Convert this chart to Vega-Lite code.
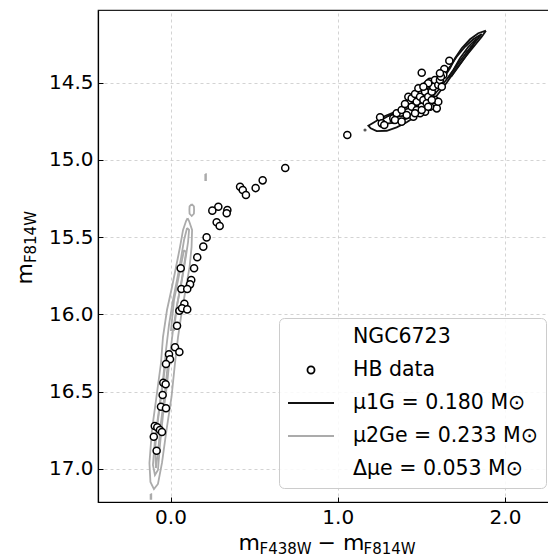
{
"$schema": "https://vega.github.io/schema/vega-lite/v6.json",
"width": 451, "height": 492,
"autosize": {"type": "none"},
"padding": {"left": 98, "top": 10, "right": 0, "bottom": 56},
"config": {
 "font": "DejaVu Sans",
 "view": {"stroke": "#222222", "strokeWidth": 1.2},
 "axis": {"labelFont": "DejaVu Sans", "labelFontSize": 20, "labelColor": "#000000", "titleFont": "DejaVu Sans", "titleFontWeight": "normal", "titleColor": "#000000", "tickColor": "#000000", "domainColor": "#000000", "domainWidth": 1.2, "gridColor": "#c8c8c8", "gridDash": [3, 3], "gridWidth": 0.8},
 "legend": {"orient": "none", "legendX": 181, "legendY": 308, "labelFont": "DejaVu Sans", "labelFontSize": 20.5, "labelColor": "#000000", "clipHeight": 22, "rowPadding": 11, "padding": 8, "cornerRadius": 5, "strokeColor": "#cccccc", "fillColor": "rgba(255,255,255,0.85)", "labelOffset": 18, "symbolStrokeWidth": 1.8, "labelLimit": 400}
},
"datasets": {
 "hb": [
  {"x":0.686,"y":15.052,"g":"HB data"},{"x":0.551,"y":15.132,"g":"HB data"},{"x":0.509,"y":15.182,"g":"HB data"},{"x":0.416,"y":15.173,"g":"HB data"},{"x":0.432,"y":15.194,"g":"HB data"},{"x":0.451,"y":15.227,"g":"HB data"},{"x":0.340,"y":15.324,"g":"HB data"},{"x":0.336,"y":15.345,"g":"HB data"},{"x":0.286,"y":15.303,"g":"HB data"},{"x":0.250,"y":15.328,"g":"HB data"},{"x":0.276,"y":15.403,"g":"HB data"},{"x":0.294,"y":15.427,"g":"HB data"},{"x":0.216,"y":15.501,"g":"HB data"},{"x":0.196,"y":15.561,"g":"HB data"},{"x":0.160,"y":15.630,"g":"HB data"},{"x":0.141,"y":15.701,"g":"HB data"},{"x":0.061,"y":15.701,"g":"HB data"},{"x":0.124,"y":15.777,"g":"HB data"},{"x":0.117,"y":15.805,"g":"HB data"},{"x":0.065,"y":15.835,"g":"HB data"},{"x":0.100,"y":15.835,"g":"HB data"},{"x":0.083,"y":15.930,"g":"HB data"},{"x":0.053,"y":15.976,"g":"HB data"},{"x":0.069,"y":15.960,"g":"HB data"},{"x":0.100,"y":15.967,"g":"HB data"},{"x":0.039,"y":16.073,"g":"HB data"},{"x":0.027,"y":16.212,"g":"HB data"},{"x":0.053,"y":16.243,"g":"HB data"},{"x":-0.009,"y":16.258,"g":"HB data"},{"x":-0.003,"y":16.290,"g":"HB data"},{"x":-0.027,"y":16.321,"g":"HB data"},{"x":-0.043,"y":16.442,"g":"HB data"},{"x":-0.029,"y":16.452,"g":"HB data"},{"x":-0.047,"y":16.521,"g":"HB data"},{"x":-0.057,"y":16.597,"g":"HB data"},{"x":-0.027,"y":16.607,"g":"HB data"},{"x":-0.094,"y":16.722,"g":"HB data"},{"x":-0.079,"y":16.730,"g":"HB data"},{"x":-0.063,"y":16.748,"g":"HB data"},{"x":-0.051,"y":16.761,"g":"HB data"},{"x":-0.100,"y":16.791,"g":"HB data"},{"x":-0.083,"y":16.882,"g":"HB data"},
  {"x":1.057,"y":14.838,"g":"HB data"},{"x":1.502,"y":14.435,"g":"HB data"},{"x":1.667,"y":14.358,"g":"HB data"},{"x":1.637,"y":14.411,"g":"HB data"},
  {"x":1.253,"y":14.724,"g":"HB data"},{"x":1.263,"y":14.763,"g":"HB data"},{"x":1.332,"y":14.730,"g":"HB data"},{"x":1.352,"y":14.698,"g":"HB data"},{"x":1.382,"y":14.677,"g":"HB data"},{"x":1.402,"y":14.638,"g":"HB data"},{"x":1.422,"y":14.591,"g":"HB data"},{"x":1.442,"y":14.601,"g":"HB data"},{"x":1.462,"y":14.573,"g":"HB data"},{"x":1.472,"y":14.623,"g":"HB data"},{"x":1.482,"y":14.536,"g":"HB data"},{"x":1.492,"y":14.591,"g":"HB data"},{"x":1.502,"y":14.655,"g":"HB data"},{"x":1.512,"y":14.612,"g":"HB data"},{"x":1.522,"y":14.558,"g":"HB data"},{"x":1.532,"y":14.515,"g":"HB data"},{"x":1.541,"y":14.591,"g":"HB data"},{"x":1.552,"y":14.494,"g":"HB data"},{"x":1.562,"y":14.558,"g":"HB data"},{"x":1.571,"y":14.526,"g":"HB data"},{"x":1.581,"y":14.612,"g":"HB data"},{"x":1.581,"y":14.483,"g":"HB data"},{"x":1.592,"y":14.666,"g":"HB data"},{"x":1.601,"y":14.515,"g":"HB data"},{"x":1.611,"y":14.483,"g":"HB data"},{"x":1.622,"y":14.526,"g":"HB data"},{"x":1.631,"y":14.450,"g":"HB data"},{"x":1.601,"y":14.623,"g":"HB data"},{"x":1.552,"y":14.655,"g":"HB data"},{"x":1.522,"y":14.688,"g":"HB data"},{"x":1.492,"y":14.698,"g":"HB data"},{"x":1.452,"y":14.720,"g":"HB data"},{"x":1.412,"y":14.709,"g":"HB data"},{"x":1.442,"y":14.655,"g":"HB data"},{"x":1.532,"y":14.633,"g":"HB data"},{"x":1.562,"y":14.612,"g":"HB data"},{"x":1.472,"y":14.677,"g":"HB data"},{"x":1.278,"y":14.774,"g":"HB data"},{"x":1.342,"y":14.741,"g":"HB data"},{"x":1.382,"y":14.752,"g":"HB data"},{"x":1.462,"y":14.698,"g":"HB data"},{"x":1.502,"y":14.677,"g":"HB data"},{"x":1.541,"y":14.655,"g":"HB data"},{"x":1.617,"y":14.461,"g":"HB data"},{"x":1.611,"y":14.439,"g":"HB data"},{"x":1.541,"y":14.504,"g":"HB data"},{"x":1.512,"y":14.526,"g":"HB data"}
 ],
 "c1g": [
  {"id":1,"o":0,"x":1.886,"y":14.163},{"id":1,"o":1,"x":1.840,"y":14.180},{"id":1,"o":2,"x":1.791,"y":14.219},{"id":1,"o":3,"x":1.741,"y":14.277},{"id":1,"o":4,"x":1.701,"y":14.342},{"id":1,"o":5,"x":1.671,"y":14.407},{"id":1,"o":6,"x":1.631,"y":14.472},{"id":1,"o":7,"x":1.581,"y":14.536},{"id":1,"o":8,"x":1.522,"y":14.601},{"id":1,"o":9,"x":1.462,"y":14.651},{"id":1,"o":10,"x":1.392,"y":14.677},{"id":1,"o":11,"x":1.332,"y":14.694},{"id":1,"o":12,"x":1.272,"y":14.720},{"id":1,"o":13,"x":1.213,"y":14.759},{"id":1,"o":14,"x":1.183,"y":14.778},{"id":1,"o":15,"x":1.197,"y":14.795},{"id":1,"o":16,"x":1.233,"y":14.813},{"id":1,"o":17,"x":1.293,"y":14.811},{"id":1,"o":18,"x":1.352,"y":14.789},{"id":1,"o":19,"x":1.412,"y":14.756},{"id":1,"o":20,"x":1.472,"y":14.714},{"id":1,"o":21,"x":1.532,"y":14.655},{"id":1,"o":22,"x":1.592,"y":14.584},{"id":1,"o":23,"x":1.651,"y":14.500},{"id":1,"o":24,"x":1.711,"y":14.407},{"id":1,"o":25,"x":1.771,"y":14.321},{"id":1,"o":26,"x":1.821,"y":14.256},{"id":1,"o":27,"x":1.861,"y":14.202},{"id":1,"o":28,"x":1.886,"y":14.163},
  {"id":2,"o":0,"x":1.861,"y":14.185},{"id":2,"o":1,"x":1.810,"y":14.219},{"id":2,"o":2,"x":1.761,"y":14.267},{"id":2,"o":3,"x":1.711,"y":14.332},{"id":2,"o":4,"x":1.671,"y":14.396},{"id":2,"o":5,"x":1.622,"y":14.461},{"id":2,"o":6,"x":1.571,"y":14.521},{"id":2,"o":7,"x":1.512,"y":14.580},{"id":2,"o":8,"x":1.442,"y":14.633},{"id":2,"o":9,"x":1.372,"y":14.677},{"id":2,"o":10,"x":1.302,"y":14.716},{"id":2,"o":11,"x":1.253,"y":14.746},{"id":2,"o":12,"x":1.272,"y":14.767},{"id":2,"o":13,"x":1.342,"y":14.759},{"id":2,"o":14,"x":1.412,"y":14.724},{"id":2,"o":15,"x":1.482,"y":14.677},{"id":2,"o":16,"x":1.541,"y":14.623},{"id":2,"o":17,"x":1.601,"y":14.547},{"id":2,"o":18,"x":1.661,"y":14.465},{"id":2,"o":19,"x":1.721,"y":14.374},{"id":2,"o":20,"x":1.781,"y":14.288},{"id":2,"o":21,"x":1.831,"y":14.224},{"id":2,"o":22,"x":1.861,"y":14.185},
  {"id":3,"o":0,"x":1.831,"y":14.213},{"id":3,"o":1,"x":1.781,"y":14.267},{"id":3,"o":2,"x":1.731,"y":14.342},{"id":3,"o":3,"x":1.691,"y":14.418},{"id":3,"o":4,"x":1.661,"y":14.465},{"id":3,"o":5,"x":1.681,"y":14.457},{"id":3,"o":6,"x":1.721,"y":14.396},{"id":3,"o":7,"x":1.771,"y":14.321},{"id":3,"o":8,"x":1.810,"y":14.256},{"id":3,"o":9,"x":1.831,"y":14.213},
  {"id":4,"o":0,"x":1.312,"y":14.746},{"id":4,"o":1,"x":1.362,"y":14.720},{"id":4,"o":2,"x":1.422,"y":14.709},{"id":4,"o":3,"x":1.442,"y":14.720},{"id":4,"o":4,"x":1.392,"y":14.741},{"id":4,"o":5,"x":1.332,"y":14.763},{"id":4,"o":6,"x":1.312,"y":14.746}
 ],
 "c2ge": [
  {"id":1,"o":0,"x":0.102,"y":15.376},{"id":1,"o":1,"x":0.093,"y":15.395},{"id":1,"o":2,"x":0.075,"y":15.453},{"id":1,"o":3,"x":0.057,"y":15.563},{"id":1,"o":4,"x":0.033,"y":15.693},{"id":1,"o":5,"x":0.009,"y":15.822},{"id":1,"o":6,"x":-0.021,"y":15.971},{"id":1,"o":7,"x":-0.045,"y":16.146},{"id":1,"o":8,"x":-0.057,"y":16.314},{"id":1,"o":9,"x":-0.084,"y":16.534},{"id":1,"o":10,"x":-0.111,"y":16.748},{"id":1,"o":11,"x":-0.126,"y":16.961},{"id":1,"o":12,"x":-0.120,"y":17.084},{"id":1,"o":13,"x":-0.099,"y":17.130},{"id":1,"o":14,"x":-0.075,"y":17.097},{"id":1,"o":15,"x":-0.051,"y":16.961},{"id":1,"o":16,"x":-0.024,"y":16.748},{"id":1,"o":17,"x":0.006,"y":16.534},{"id":1,"o":18,"x":0.027,"y":16.314},{"id":1,"o":19,"x":0.045,"y":16.146},{"id":1,"o":20,"x":0.069,"y":15.971},{"id":1,"o":21,"x":0.093,"y":15.822},{"id":1,"o":22,"x":0.114,"y":15.693},{"id":1,"o":23,"x":0.126,"y":15.563},{"id":1,"o":24,"x":0.129,"y":15.453},{"id":1,"o":25,"x":0.111,"y":15.395},{"id":1,"o":26,"x":0.102,"y":15.376},
  {"id":2,"o":0,"x":0.099,"y":15.440},{"id":2,"o":1,"x":0.081,"y":15.518},{"id":2,"o":2,"x":0.063,"y":15.635},{"id":2,"o":3,"x":0.039,"y":15.777},{"id":2,"o":4,"x":0.015,"y":15.906},{"id":2,"o":5,"x":-0.009,"y":16.068},{"id":2,"o":6,"x":-0.027,"y":16.230},{"id":2,"o":7,"x":-0.045,"y":16.424},{"id":2,"o":8,"x":-0.069,"y":16.618},{"id":2,"o":9,"x":-0.093,"y":16.812},{"id":2,"o":10,"x":-0.105,"y":16.974},{"id":2,"o":11,"x":-0.093,"y":17.039},{"id":2,"o":12,"x":-0.075,"y":17.007},{"id":2,"o":13,"x":-0.063,"y":16.845},{"id":2,"o":14,"x":-0.045,"y":16.651},{"id":2,"o":15,"x":-0.021,"y":16.456},{"id":2,"o":16,"x":-0.003,"y":16.262},{"id":2,"o":17,"x":0.015,"y":16.101},{"id":2,"o":18,"x":0.039,"y":15.939},{"id":2,"o":19,"x":0.063,"y":15.809},{"id":2,"o":20,"x":0.087,"y":15.660},{"id":2,"o":21,"x":0.105,"y":15.531},{"id":2,"o":22,"x":0.111,"y":15.453},{"id":2,"o":23,"x":0.099,"y":15.440},
  {"id":3,"o":0,"x":0.081,"y":15.583},{"id":3,"o":1,"x":0.051,"y":15.745},{"id":3,"o":2,"x":0.021,"y":15.906},{"id":3,"o":3,"x":0.003,"y":16.101},{"id":3,"o":4,"x":0.021,"y":16.101},{"id":3,"o":5,"x":0.039,"y":15.939},{"id":3,"o":6,"x":0.069,"y":15.764},{"id":3,"o":7,"x":0.093,"y":15.596},{"id":3,"o":8,"x":0.081,"y":15.583},
  {"id":4,"o":0,"x":-0.027,"y":16.295},{"id":4,"o":1,"x":-0.051,"y":16.489},{"id":4,"o":2,"x":-0.075,"y":16.683},{"id":4,"o":3,"x":-0.093,"y":16.877},{"id":4,"o":4,"x":-0.087,"y":16.994},{"id":4,"o":5,"x":-0.075,"y":16.890},{"id":4,"o":6,"x":-0.057,"y":16.696},{"id":4,"o":7,"x":-0.033,"y":16.502},{"id":4,"o":8,"x":-0.015,"y":16.308},{"id":4,"o":9,"x":-0.027,"y":16.295},
  {"id":5,"o":0,"x":0.127,"y":15.285},{"id":5,"o":1,"x":0.140,"y":15.300},{"id":5,"o":2,"x":0.141,"y":15.324},{"id":5,"o":3,"x":0.140,"y":15.348},{"id":5,"o":4,"x":0.127,"y":15.363},{"id":5,"o":5,"x":0.114,"y":15.348},{"id":5,"o":6,"x":0.113,"y":15.324},{"id":5,"o":7,"x":0.114,"y":15.300},{"id":5,"o":8,"x":0.127,"y":15.285},
  {"id":6,"o":0,"x":0.208,"y":15.091},{"id":6,"o":1,"x":0.212,"y":15.091},{"id":6,"o":2,"x":0.212,"y":15.130},{"id":6,"o":3,"x":0.208,"y":15.130},{"id":6,"o":4,"x":0.208,"y":15.091},
  {"id":7,"o":0,"x":-0.119,"y":17.162},{"id":7,"o":1,"x":-0.115,"y":17.162},{"id":7,"o":2,"x":-0.115,"y":17.194},{"id":7,"o":3,"x":-0.119,"y":17.194},{"id":7,"o":4,"x":-0.119,"y":17.162}
 ],
 "dots": [
  {"x":1.163,"y":14.806},{"x":1.771,"y":14.299},{"x":1.797,"y":14.267}
 ]
},
"resolve": {"axis": {"x": "independent", "y": "independent"}},
"layer": [
 {
  "data": {"name": "c2ge"},
  "mark": {"type": "line", "stroke": "#ababab", "strokeWidth": 1.8, "clip": true},
  "encoding": {
   "x": {"field": "x", "type": "quantitative", "scale": {"domain": [-0.4335, 2.263], "nice": false, "zero": false},
    "axis": {"orient": "bottom", "values": [0, 1, 2], "format": ".1f", "grid": true, "labelPadding": 10, "tickSize": -5, "tickWidth": 1, "title": "m", "titleX": 140, "titleY": 47, "titleAlign": "left", "titleBaseline": "alphabetic", "titleAnchor": null, "titleFontSize": 22}},
   "y": {"field": "y", "type": "quantitative", "scale": {"domain": [14.0294, 17.2136], "reverse": true, "nice": false, "zero": false},
    "axis": {"orient": "left", "values": [14.5, 15.0, 15.5, 16.0, 16.5, 17.0], "format": ".1f", "grid": true, "labelPadding": 10, "tickSize": -5, "tickWidth": 1, "title": "m", "titleX": -67, "titleY": 274, "titleAngle": -90, "titleAlign": "left", "titleBaseline": "alphabetic", "titleFontSize": 22}},
   "detail": {"field": "id", "type": "nominal"},
   "order": {"field": "o", "type": "quantitative"}
  }
 },
 {
  "data": {"name": "c1g"},
  "mark": {"type": "line", "stroke": "#111111", "strokeWidth": 1.8, "clip": true},
  "encoding": {
   "x": {"field": "x", "type": "quantitative", "scale": {"domain": [-0.4335, 2.263], "nice": false, "zero": false},
    "axis": {"orient": "bottom", "labels": false, "ticks": false, "domain": false, "grid": false, "title": "F438W", "titleX": 161, "titleY": 51, "titleAlign": "left", "titleBaseline": "alphabetic", "titleFontSize": 15}},
   "y": {"field": "y", "type": "quantitative", "scale": {"domain": [14.0294, 17.2136], "reverse": true, "nice": false, "zero": false},
    "axis": {"orient": "left", "labels": false, "ticks": false, "domain": false, "grid": false, "title": "F814W", "titleX": -63, "titleY": 252.6, "titleAngle": -90, "titleAlign": "left", "titleBaseline": "alphabetic", "titleFontSize": 15}},
   "detail": {"field": "id", "type": "nominal"},
   "order": {"field": "o", "type": "quantitative"}
  }
 },
 {
  "data": {"name": "dots"},
  "mark": {"type": "point", "shape": "circle", "filled": true, "color": "#111111", "size": 10, "clip": true},
  "encoding": {
   "x": {"field": "x", "type": "quantitative", "scale": {"domain": [-0.4335, 2.263], "nice": false, "zero": false},
    "axis": {"orient": "bottom", "labels": false, "ticks": false, "domain": false, "grid": false, "title": "F814W", "titleX": 265, "titleY": 51, "titleAlign": "left", "titleBaseline": "alphabetic", "titleFontSize": 15}},
   "y": {"field": "y", "type": "quantitative", "scale": {"domain": [14.0294, 17.2136], "reverse": true, "nice": false, "zero": false}, "axis": null}
  }
 },
 {
  "data": {"name": "hb"},
  "mark": {"type": "point", "shape": "circle", "filled": false, "fill": "white", "fillOpacity": 1, "strokeWidth": 1.5, "opacity": 1, "clip": true},
  "encoding": {
   "x": {"field": "x", "type": "quantitative", "scale": {"domain": [-0.4335, 2.263], "nice": false, "zero": false},
    "axis": {"orient": "bottom", "labels": false, "ticks": false, "domain": false, "grid": false, "title": "− m", "titleX": 219, "titleY": 47, "titleAlign": "left", "titleBaseline": "alphabetic", "titleFontSize": 22}},
   "y": {"field": "y", "type": "quantitative", "scale": {"domain": [14.0294, 17.2136], "reverse": true, "nice": false, "zero": false}, "axis": null},
   "stroke": {"field": "g", "type": "nominal", "scale": {"domain": ["NGC6723", "HB data", "μ1G = 0.180 M⊙", "μ2Ge = 0.233 M⊙", "Δμe = 0.053 M⊙"], "range": ["rgba(0,0,0,0)", "#000000", "#111111", "#ababab", "rgba(0,0,0,0)"]}, "legend": {"title": null}},
   "shape": {"field": "g", "type": "nominal", "scale": {"domain": ["NGC6723", "HB data", "μ1G = 0.180 M⊙", "μ2Ge = 0.233 M⊙", "Δμe = 0.053 M⊙"], "range": ["circle", "circle", "stroke", "stroke", "circle"]}, "legend": {"title": null}},
   "size": {"field": "g", "type": "nominal", "scale": {"type": "ordinal", "domain": ["NGC6723", "HB data", "μ1G = 0.180 M⊙", "μ2Ge = 0.233 M⊙", "Δμe = 0.053 M⊙"], "range": [50, 50, 2116, 2116, 50]}, "legend": {"title": null}}
  }
 }
]
}
